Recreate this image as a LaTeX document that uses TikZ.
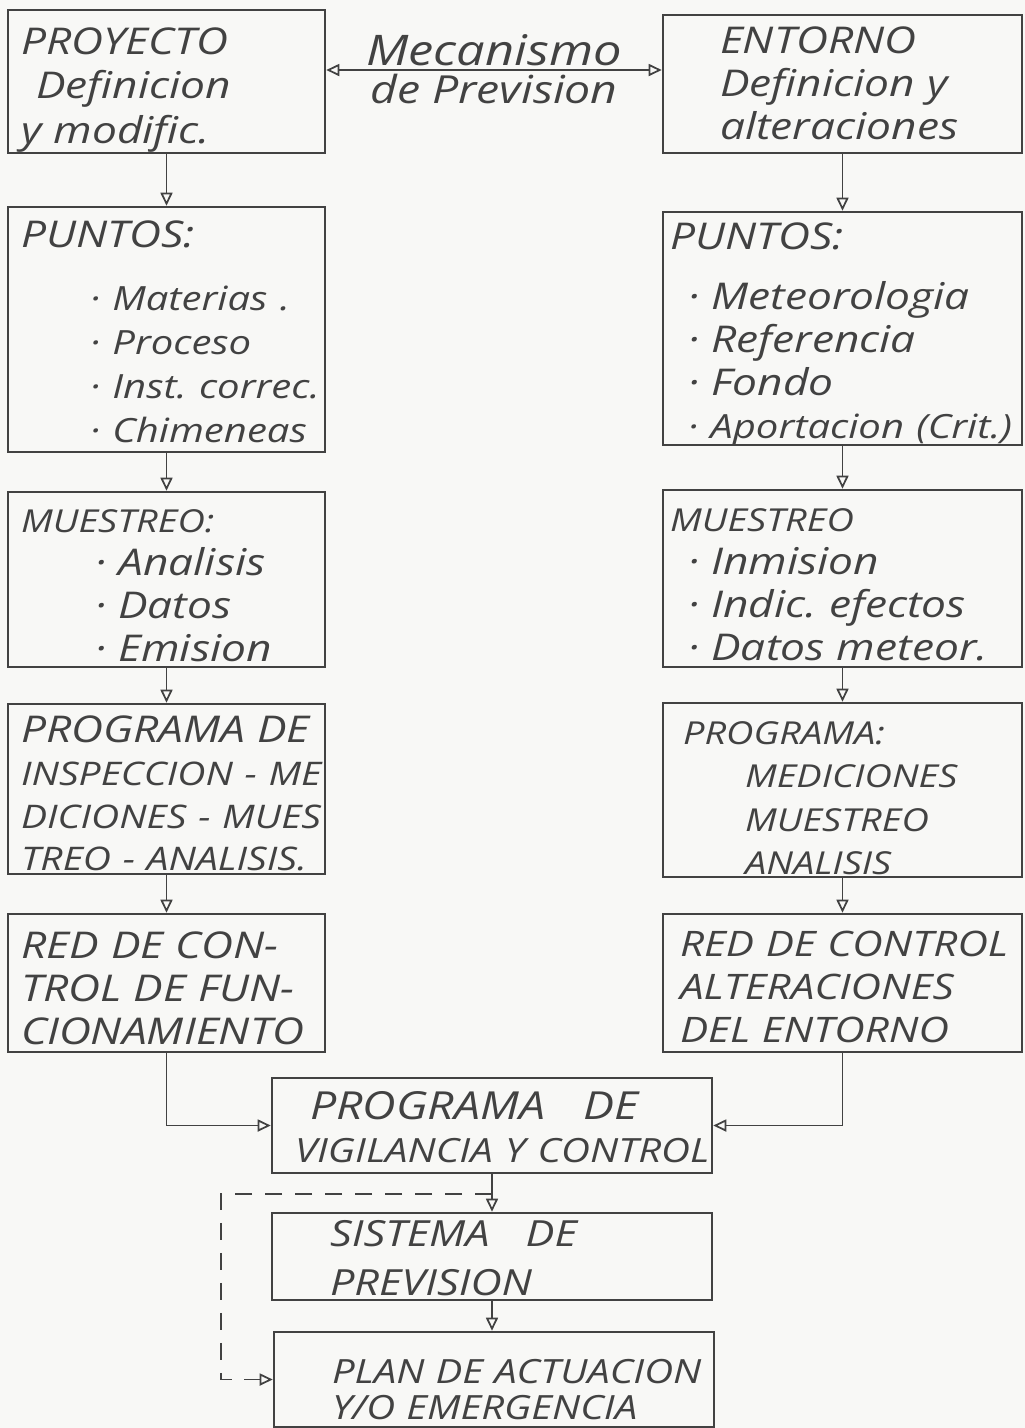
\documentclass[tikz,border=0pt]{standalone}
\usepackage{fontspec}
\setmainfont{Open Sans}[FakeStretch=1.2]
\usepackage{tikz}
\usetikzlibrary{arrows.meta,calc}
\definecolor{pencil}{HTML}{424242}
\definecolor{paper}{HTML}{F8F8F6}
\frenchspacing
% lines of a box, lowered by the optional shift
\newcommand{\boxlines}[2][-5pt]{\raisebox{#1}[0pt][0pt]{\begin{tabular}{@{}l@{}}#2\end{tabular}}}

\begin{document}
\begin{tikzpicture}[
    x=0.02cm, y=-0.02cm,
    box/.style={rectangle, draw=pencil, line width=1.5pt, text=pencil, align=left, inner ysep=0pt,
        font=\itshape\fontsize{21}{24.5}\selectfont},
    lbox/.style={box, minimum width=6.34cm, text width=5.82cm, inner xsep=0.26cm},
    rbox/.style={box, minimum width=7.18cm, text width=6.9cm, inner xsep=0.14cm},
    cbox/.style={box, minimum width=8.8cm, text width=8.4cm, inner xsep=0.2cm},
    arrow/.style={draw=pencil, line width=1pt, -{Triangle[open, length=2.6mm, width=2.4mm]}},
    dblarrow/.style={draw=pencil, line width=1pt, {Triangle[open, length=2.6mm, width=2.4mm]}-{Triangle[open, length=2.6mm, width=2.4mm]}},
    label/.style={text=pencil, inner sep=2pt}
]
\fill[paper] (0,0) rectangle (1025,1428);
\useasboundingbox (0,0) rectangle (1025,1428);

% Left column: proyecto
\node[lbox, minimum height=2.86cm, font=\itshape\fontsize{21}{25.5}\selectfont] (proy) at (166.5, 81.5)
    {\boxlines[-10pt]{PROYECTO\\\hspace*{0.3cm}Definicion\\y modific.}};
\node[lbox, minimum height=4.9cm, font=\itshape\fontsize{21}{25}\selectfont] (ptsL) at (166.5, 329.5)
    {\boxlines[-9pt]{PUNTOS:\\[11pt]\fontsize{19}{25}\selectfont\hspace*{1.38cm}· Materias .\\\fontsize{19}{25}\selectfont\hspace*{1.38cm}· Proceso\\\fontsize{19}{25}\selectfont\hspace*{1.38cm}· Inst. correc.\\\fontsize{19}{25}\selectfont\hspace*{1.38cm}· Chimeneas}};
\node[lbox, minimum height=3.5cm] (muesL) at (166.5, 579.5)
    {\boxlines[-10pt]{{\fontsize{18}{24.5}\selectfont MUESTREO:}\\\hspace*{1.48cm}· Analisis\\\hspace*{1.48cm}· Datos\\\hspace*{1.48cm}· Emision}};
\node[lbox, minimum height=3.4cm, font=\itshape\fontsize{20}{24.3}\selectfont] (progL) at (166.5, 789)
    {\boxlines[-10.5pt]{{\fontsize{21}{24.3}\selectfont PROGRAMA DE}\\\fontsize{18.5}{24.3}\selectfont INSPECCION - ME\\\fontsize{18.5}{24.3}\selectfont DICIONES - MUES\\\fontsize{18.5}{24.3}\selectfont TREO - ANALISIS.}};
\node[lbox, minimum height=2.76cm] (redL) at (166.5, 983)
    {\boxlines[-11pt]{RED DE CON-\\TROL DE FUN-\\CIONAMIENTO}};

% Right column: entorno
\node[rbox, minimum height=2.76cm] (ent) at (842.5, 84)
    {\boxlines[-7.5pt]{\hspace*{1cm}ENTORNO\\\hspace*{1cm}Definicion y\\\hspace*{1cm}alteraciones}};
\node[rbox, minimum height=4.66cm] (ptsR) at (842.5, 328.5)
    {\boxlines[-9pt]{PUNTOS:\\[9.5pt]\hspace*{0.36cm}· Meteorologia\\\hspace*{0.36cm}· Referencia\\\hspace*{0.36cm}· Fondo\\\hspace*{0.36cm}{\fontsize{19}{24.5}\selectfont · Aportacion (Crit.)}}};
\node[rbox, minimum height=3.54cm] (muesR) at (842.5, 578.5)
    {\boxlines[-10pt]{{\fontsize{18}{24.5}\selectfont MUESTREO}\\\hspace*{0.36cm}· Inmision\\\hspace*{0.36cm}· Indic. efectos\\\hspace*{0.36cm}· Datos meteor.}};
\node[rbox, minimum height=3.48cm, font=\itshape\fontsize{18}{24.5}\selectfont] (progR) at (842.5, 790)
    {\boxlines[-10.5pt]{\hspace*{0.26cm}PROGRAMA:\\\hspace*{1.5cm}MEDICIONES\\\hspace*{1.5cm}MUESTREO\\\hspace*{1.5cm}ANALISIS}};
\node[rbox, minimum height=2.76cm, font=\itshape\fontsize{20}{24.5}\selectfont] (redR) at (842.5, 983)
    {\boxlines[-9.6pt]{\hspace*{0.2cm}RED DE CONTROL\\\hspace*{0.2cm}ALTERACIONES\\\hspace*{0.2cm}DEL ENTORNO}};

% Centre column
\node[cbox, minimum height=1.9cm] (vig) at (492, 1125.5)
    {\boxlines[-9pt]{\hspace*{0.56cm}{\fontsize{22}{24}\selectfont PROGRAMA\quad DE}\\\hspace*{0.26cm}{\fontsize{19}{25}\selectfont VIGILANCIA Y CONTROL}}};
\node[cbox, minimum height=1.74cm, font=\itshape\fontsize{20.5}{24.5}\selectfont] (sist) at (492, 1256.5)
    {\boxlines[-8.5pt]{\hspace*{0.96cm}SISTEMA\quad DE\\[3pt]\hspace*{0.96cm}PREVISION}};
\node[cbox, minimum height=1.9cm, font=\itshape\fontsize{19}{20.5}\selectfont] (plan) at (494, 1379.5)
    {\boxlines[-12.5pt]{\hspace*{0.96cm}PLAN DE ACTUACION\\\hspace*{0.96cm}Y/O EMERGENCIA}};

% Mecanismo de prevision
\draw[dblarrow] ([yshift=0.23cm]proy.east) -- ([yshift=0.23cm]proy.east -| ent.west)
    node[label, midway, above, font=\itshape\fontsize{24}{26}\selectfont] (mec) {Mecanismo}
    node[label, midway, below, font=\itshape\fontsize{22}{24}\selectfont] (prev) {de Prevision};

% Vertical links
\draw[arrow] (proy) -- (ptsL);
\draw[arrow] (ptsL) -- (muesL);
\draw[arrow] (muesL) -- (progL);
\draw[arrow] (progL) -- (redL);
\draw[arrow] (ent) -- (ptsR);
\draw[arrow] (ptsR) -- (muesR);
\draw[arrow] (muesR) -- (progR);
\draw[arrow] (progR) -- (redR);

% Into the programme
\draw[arrow] (redL.south) |- (vig.west);
\draw[arrow] (redR.south) |- (vig.east);
\draw[arrow] (vig) -- (sist);
\draw[arrow] (sist) -- (plan.north -| sist.south);

% Feedback
\coordinate (fb) at (221, 1194);
\draw[arrow, dash pattern=on 3.5mm off 2.5mm] (vig.south |- fb) -- (fb) |- (plan.west);

\end{tikzpicture}
\end{document}
